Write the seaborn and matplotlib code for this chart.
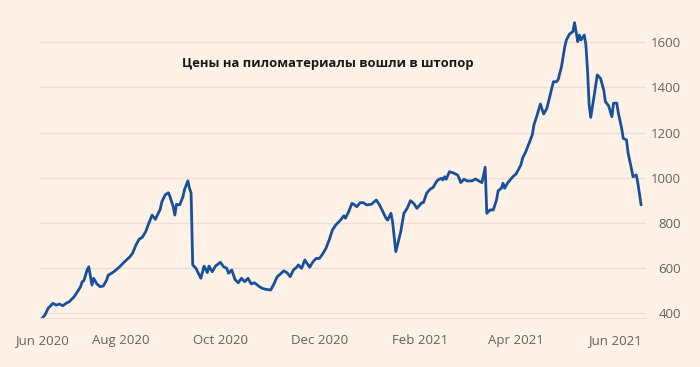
import pandas as pd
import matplotlib.pyplot as plt
import matplotlib.dates as mdates
import seaborn as sns

sns.set_style('white', {'axes.facecolor': '#FFF1E5', 'figure.facecolor': '#FFF1E5'})
plt.rcParams['font.family'] = ['Open Sans', 'DejaVu Sans']

# lumber price
dates = [
    '2020-06-13', '2020-06-15', '2020-06-17', '2020-06-20', '2020-06-22', '2020-06-24', '2020-06-26', '2020-06-28',
    '2020-06-30', '2020-07-03', '2020-07-05', '2020-07-07', '2020-07-08', '2020-07-09', '2020-07-11', '2020-07-12',
    '2020-07-14', '2020-07-15', '2020-07-17', '2020-07-19', '2020-07-21', '2020-07-23', '2020-07-24', '2020-07-26',
    '2020-07-28', '2020-07-31', '2020-08-03', '2020-08-06', '2020-08-08', '2020-08-10', '2020-08-12', '2020-08-14',
    '2020-08-16', '2020-08-18', '2020-08-20', '2020-08-22', '2020-08-25', '2020-08-26', '2020-08-28', '2020-08-30',
    '2020-08-31', '2020-09-02', '2020-09-03', '2020-09-04', '2020-09-06', '2020-09-08', '2020-09-09', '2020-09-11',
    '2020-09-12', '2020-09-13', '2020-09-14', '2020-09-16', '2020-09-19', '2020-09-21', '2020-09-23', '2020-09-24',
    '2020-09-26', '2020-09-28', '2020-10-01', '2020-10-03', '2020-10-05', '2020-10-06', '2020-10-08', '2020-10-10',
    '2020-10-12', '2020-10-14', '2020-10-16', '2020-10-18', '2020-10-20', '2020-10-22', '2020-10-25', '2020-10-27',
    '2020-10-29', '2020-11-01', '2020-11-03', '2020-11-05', '2020-11-07', '2020-11-09', '2020-11-11', '2020-11-13',
    '2020-11-15', '2020-11-17', '2020-11-18', '2020-11-20', '2020-11-22', '2020-11-25', '2020-11-27', '2020-11-29',
    '2020-12-01', '2020-12-03', '2020-12-05', '2020-12-07', '2020-12-09', '2020-12-11', '2020-12-14', '2020-12-16',
    '2020-12-17', '2020-12-19', '2020-12-21', '2020-12-22', '2020-12-24', '2020-12-26', '2020-12-28', '2020-12-30',
    '2021-01-02', '2021-01-05', '2021-01-07', '2021-01-09', '2021-01-11', '2021-01-12', '2021-01-14', '2021-01-15',
    '2021-01-17', '2021-01-18', '2021-01-20', '2021-01-22', '2021-01-24', '2021-01-26', '2021-01-28', '2021-01-30',
    '2021-02-02', '2021-02-03', '2021-02-05', '2021-02-07', '2021-02-09', '2021-02-11', '2021-02-12', '2021-02-14',
    '2021-02-15', '2021-02-16', '2021-02-17', '2021-02-19', '2021-02-21', '2021-02-24', '2021-02-25', '2021-02-26',
    '2021-02-28', '2021-03-02', '2021-03-05', '2021-03-07', '2021-03-09', '2021-03-11', '2021-03-13', '2021-03-14',
    '2021-03-16', '2021-03-18', '2021-03-20', '2021-03-21', '2021-03-23', '2021-03-24', '2021-03-25', '2021-03-27',
    '2021-03-30', '2021-04-01', '2021-04-04', '2021-04-05', '2021-04-07', '2021-04-09', '2021-04-11', '2021-04-12',
    '2021-04-14', '2021-04-16', '2021-04-18', '2021-04-20', '2021-04-22', '2021-04-24', '2021-04-26', '2021-04-27',
    '2021-04-29', '2021-05-01', '2021-05-02', '2021-05-04', '2021-05-06', '2021-05-07', '2021-05-09', '2021-05-10',
    '2021-05-11', '2021-05-13', '2021-05-14', '2021-05-15', '2021-05-16', '2021-05-17', '2021-05-19', '2021-05-21',
    '2021-05-23', '2021-05-25', '2021-05-26', '2021-05-28', '2021-05-30', '2021-05-31', '2021-06-02', '2021-06-03',
    '2021-06-05', '2021-06-06', '2021-06-08', '2021-06-09', '2021-06-11', '2021-06-12', '2021-06-14', '2021-06-15',
    '2021-06-17',
]
prices = [
    375, 391, 421, 443, 435, 440, 432, 443,
    450, 472, 494, 517, 539, 543, 591, 605,
    524, 554, 529, 517, 520, 546, 568, 576,
    586, 605, 627, 647, 665, 701, 727, 736,
    760, 798, 834, 815, 860, 893, 923, 933,
    916, 871, 834, 882, 879, 916, 948, 986,
    953, 931, 613, 598, 554, 608, 579, 608,
    583, 608, 625, 605, 598, 576, 591, 549,
    534, 554, 539, 554, 529, 534, 517, 509,
    505, 502, 529, 561, 573, 587, 579, 561,
    591, 603, 613, 598, 635, 603, 627, 642,
    642, 662, 687, 724, 768, 790, 812, 831,
    820, 849, 886, 883, 871, 889, 889, 879,
    882, 901, 879, 849, 820, 812, 842, 805,
    672, 701, 759, 842, 864, 898, 886, 864,
    889, 889, 931, 948, 957, 982, 990, 997,
    990, 1004, 993, 1026, 1022, 1012, 997, 978,
    993, 985, 986, 994, 986, 978, 1046, 842,
    857, 857, 901, 942, 953, 975, 953, 978,
    1004, 1016, 1056, 1086, 1115, 1152, 1189, 1233,
    1278, 1326, 1282, 1307, 1366, 1425, 1425, 1436,
    1492, 1580, 1610, 1637, 1647, 1687, 1603, 1632,
    1610, 1632, 1588, 1477, 1322, 1267, 1359, 1455,
    1440, 1388, 1337, 1318, 1270, 1330, 1330, 1285,
    1219, 1174, 1167, 1108, 1041, 1004, 1012, 975,
    879,
]

title = 'Цены на пиломатериалы вошли в штопор'
label_dates = ['2020-06-13', '2020-08-01', '2020-10-01', '2020-12-01', '2021-02-01', '2021-04-01', '2021-06-01']
label_text = ['Jun 2020', 'Aug 2020', 'Oct 2020', 'Dec 2020', 'Feb 2021', 'Apr 2021', 'Jun 2021']
minor_dates = ['2020-07-01', '2020-09-01', '2020-11-01', '2021-01-01', '2021-03-01', '2021-05-01']
yticks = [400, 600, 800, 1000, 1200, 1400, 1600]

df = pd.DataFrame({'date': pd.to_datetime(dates), 'price': prices})

fig = plt.figure(figsize=(7, 3.67), dpi=100)
ax = fig.add_axes([40 / 700, 1 - 318 / 367, 606 / 700, 313 / 367])

sns.lineplot(data=df, x='date', y='price', ax=ax, color='#17509b', linewidth=2.0)

ax.set_xlim(pd.Timestamp('2020-06-12'), pd.Timestamp('2021-06-20'))
ax.set_ylim(378, 1765)

ax.set_yticks(yticks)
ax.yaxis.tick_right()
ax.grid(axis='y', color='#EBDED2', linewidth=1)
ax.tick_params(axis='y', length=0, pad=25, labelsize=9.5, labelcolor='#66605C')
for lab in ax.get_yticklabels():
    lab.set_horizontalalignment('right')

ax.set_xticks(pd.to_datetime(label_dates))
ax.set_xticklabels(label_text)
ax.set_xticks(pd.to_datetime(minor_dates), minor=True)
ax.tick_params(axis='x', which='both', length=8.5, width=1, color='#DDD0C4',
               labelsize=9.5, labelcolor='#66605C', pad=3)

for s in ['top', 'left', 'right']:
    ax.spines[s].set_visible(False)
ax.spines['bottom'].set_color('#EBDED2')
ax.set_xlabel('')
ax.set_ylabel('')

fig.text(328 / 700, 1 - 63 / 367, title, ha='center', va='center',
         fontsize=9.4, fontweight='bold', color='#1a1817')

fig.savefig('out.png', dpi=100, facecolor=fig.get_facecolor())
